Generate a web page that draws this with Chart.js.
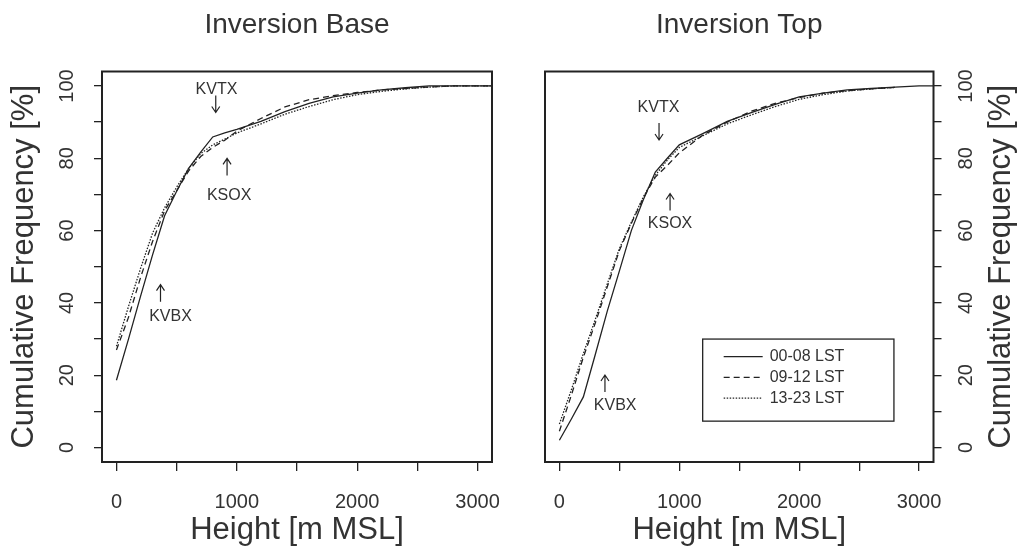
<!DOCTYPE html>
<html>
<head>
<meta charset="utf-8">
<title>Inversion Base / Inversion Top</title>
<script src="https://cdn.jsdelivr.net/npm/chart.js@4/dist/chart.umd.min.js"></script>
<style>
  body { margin: 0; background: #fff; }
  .panel { position: absolute; top: 0; width: 510px; height: 560px; }
</style>
</head>
<body>
<div class="panel" style="left:0"><canvas id="baseChart" width="510" height="560"></canvas></div>
<div class="panel" style="left:510px"><canvas id="topChart" width="510" height="560"></canvas></div>
<script>
// heights the curves were read at [m MSL]
const heights = [0, 100, 200, 300, 400, 500, 600, 700, 800, 900, 1000, 1200, 1400, 1600, 1800, 2000, 2200, 2400, 2600, 2800, 3000, 3120];

const seriesNames = ['00-08 LST', '09-12 LST', '13-23 LST'];

// Inversion Base, cumulative frequency [%]
const base0008 = [18.6, 30.0, 41.8, 53.3, 64.1, 70.9, 77.2, 81.7, 85.9, 87.0, 88.0, 90.2, 92.9, 95.2, 97.0, 98.0, 98.9, 99.5, 100, 100, 100, 100];
const base0912 = [27.0, 36.0, 47.0, 57.0, 65.5, 71.0, 76.5, 80.5, 83.0, 85.0, 87.5, 91.0, 94.2, 96.2, 97.3, 98.2, 98.9, 99.3, 99.7, 100, 100, 100];
const base1323 = [28.0, 39.0, 49.5, 59.3, 66.3, 72.0, 77.2, 81.3, 83.7, 85.3, 87.0, 89.5, 92.2, 94.3, 96.2, 97.6, 98.5, 99.2, 99.7, 100, 100, 100];

// Inversion Top, cumulative frequency [%]
const top0008 = [2.0, 7.9, 14.0, 25.8, 37.8, 48.8, 60.0, 68.5, 76.2, 80.0, 83.7, 86.9, 90.2, 92.6, 94.9, 97.0, 98.0, 98.9, 99.3, 99.7, 100, 100];
const top0912 = [4.5, 14.5, 25.0, 34.5, 44.5, 54.5, 62.0, 69.0, 74.8, 78.0, 81.5, 86.5, 90.0, 93.0, 95.2, 96.8, 98.0, 98.7, 99.2, 99.6, null, null];
const top1323 = [6.5, 16.0, 26.0, 35.5, 45.3, 55.0, 62.3, 69.3, 75.3, 79.5, 83.0, 86.3, 89.5, 92.0, 94.3, 96.3, 97.6, 98.6, 99.2, 99.6, null, null];

// axes
const xTicks = [0, 500, 1000, 1500, 2000, 2500, 3000];
const yTicks = [0, 10, 20, 30, 40, 50, 60, 70, 80, 90, 100];
const yLabelTicks = [0, 20, 40, 60, 80, 100];

// station notes: label + arrow, in data units
const baseNotes = [
  {station: 'KVTX', dir: 'down', arrowH: 825, arrowP: 95.0, labelH: 831, labelP: 98.9},
  {station: 'KSOX', dir: 'up', arrowH: 919, arrowP: 77.6, labelH: 936, labelP: 69.8},
  {station: 'KVBX', dir: 'up', arrowH: 366, arrowP: 42.7, labelH: 449, labelP: 36.1}
];
const topNotes = [
  {station: 'KVTX', dir: 'down', arrowH: 831, arrowP: 87.4, labelH: 826, labelP: 94.0},
  {station: 'KSOX', dir: 'up', arrowH: 923, arrowP: 67.9, labelH: 923, labelP: 61.8},
  {station: 'KVBX', dir: 'up', arrowH: 380, arrowP: 17.7, labelH: 465, labelP: 11.5}
];

const fontFamily = "'Liberation Sans', Arial, Helvetica, sans-serif";
const ink = '#333';
const lineInk = '#222';
const dashes = [[], [6, 4], [1.5, 1.5]];

function makeDatasets(seriesList) {
  return seriesList.map((vals, i) => ({
    label: seriesNames[i],
    data: heights.map((h, j) => ({x: h, y: vals[j]})).filter(pt => pt.y !== null),
    borderColor: lineInk,
    borderWidth: 1.3,
    borderDash: dashes[i],
    pointRadius: 0,
    tension: 0,
    fill: false
  }));
}

function rotText(ctx, text, x, y) {
  ctx.save();
  ctx.translate(x, y);
  ctx.rotate(-Math.PI / 2);
  ctx.fillText(text, 0, 0);
  ctx.restore();
}

function arrow(ctx, x, y, dir) {
  const half = 8.5;
  const tipY = dir === 'up' ? y - half : y + half;
  const back = dir === 'up' ? 6 : -6;
  ctx.beginPath();
  ctx.moveTo(x, y - half);
  ctx.lineTo(x, y + half);
  ctx.moveTo(x - 4, tipY + back);
  ctx.lineTo(x, tipY);
  ctx.lineTo(x + 4, tipY + back);
  ctx.stroke();
}

// box, rotated y labels, station notes and the legend
const panelDecor = {
  id: 'panelDecor',
  afterDraw(chart, args, opts) {
    const ctx = chart.ctx;
    const area = chart.chartArea;
    const xs = chart.scales.x, ys = chart.scales.y;
    ctx.save();

    ctx.strokeStyle = lineInk;
    ctx.lineWidth = 2;
    ctx.strokeRect(area.left, area.top, area.right - area.left, area.bottom - area.top);

    ctx.fillStyle = ink;
    ctx.textAlign = 'center';
    ctx.textBaseline = 'middle';
    const tickX = opts.side === 'left' ? area.left - 35 : area.right + 32.5;
    const titleX = opts.side === 'left' ? area.left - 78 : area.right + 68;
    ctx.font = '20px ' + fontFamily;
    yLabelTicks.forEach(v => rotText(ctx, String(v), tickX, ys.getPixelForValue(v)));
    ctx.font = '31px ' + fontFamily;
    rotText(ctx, 'Cumulative Frequency [%]', titleX, (area.top + area.bottom) / 2);

    ctx.font = '16px ' + fontFamily;
    ctx.lineWidth = 1.2;
    opts.notes.forEach(n => {
      ctx.fillText(n.station, xs.getPixelForValue(n.labelH), ys.getPixelForValue(n.labelP));
      arrow(ctx, xs.getPixelForValue(n.arrowH), ys.getPixelForValue(n.arrowP), n.dir);
    });

    if (opts.legendBox) {
      const b = opts.legendBox;
      const l = xs.getPixelForValue(b.h1), t = ys.getPixelForValue(b.p1);
      const r = xs.getPixelForValue(b.h2), bt = ys.getPixelForValue(b.p2);
      ctx.lineWidth = 1.3;
      ctx.strokeRect(l, t, r - l, bt - t);
      ctx.textAlign = 'left';
      chart.data.datasets.forEach((ds, i) => {
        const rowY = t + 17.5 + i * 20.8;
        ctx.setLineDash(ds.borderDash);
        ctx.beginPath();
        ctx.moveTo(l + 21, rowY);
        ctx.lineTo(l + 60, rowY);
        ctx.stroke();
        ctx.setLineDash([]);
        ctx.fillText(ds.label, l + 67, rowY);
      });
    }
    ctx.restore();
  }
};

function makeChart(canvasId, title, seriesList, side, notes, legendBox) {
  return new Chart(document.getElementById(canvasId), {
    type: 'line',
    data: { datasets: makeDatasets(seriesList) },
    plugins: [panelDecor],
    options: {
      responsive: false,
      animation: false,
      layout: { padding: side === 'left' ? {left: 0, right: 18} : {left: 35, right: 0} },
      plugins: {
        legend: { display: false },
        tooltip: { enabled: false },
        title: {
          display: true, text: title, fullSize: false, color: ink,
          font: { family: fontFamily, size: 28, weight: 'normal', lineHeight: 1.2 },
          padding: { top: 8, bottom: 29.9 }
        },
        panelDecor: { side: side, notes: notes, legendBox: legendBox }
      },
      scales: {
        x: {
          type: 'linear', min: -120, max: 3120,
          afterBuildTicks: s => { s.ticks = xTicks.map(v => ({value: v})); },
          // fixed height, and no extra room asked for the end labels
          afterFit: s => { s.height = 98; s.paddingLeft = 0; s.paddingRight = 0; },
          ticks: {
            autoSkip: false, maxRotation: 0, padding: 19, color: ink,
            font: { family: fontFamily, size: 20 },
            callback: v => (v % 1000 === 0 ? String(v) : '')
          },
          grid: { drawOnChartArea: false, tickLength: 9, color: lineInk, lineWidth: 1.3 },
          border: { display: false },
          title: {
            display: true, text: 'Height [m MSL]', color: ink,
            font: { family: fontFamily, size: 31, lineHeight: 1.2 },
            padding: { top: 0, bottom: 11 }
          }
        },
        y: {
          type: 'linear', min: -4, max: 104, position: side,
          afterBuildTicks: s => { s.ticks = yTicks.map(v => ({value: v})); },
          afterFit: s => { s.width = side === 'left' ? 102 : 86.5; },
          ticks: { display: false },
          grid: { drawOnChartArea: false, tickLength: 8, color: lineInk, lineWidth: 1.3 },
          border: { display: false }
        }
      }
    }
  });
}

makeChart('baseChart', 'Inversion Base', [base0008, base0912, base1323], 'left', baseNotes, null);
makeChart('topChart', 'Inversion Top', [top0008, top0912, top1323], 'right', topNotes,
  {h1: 1195, p1: 30.0, h2: 2790, p2: 7.3});
</script>
</body>
</html>
